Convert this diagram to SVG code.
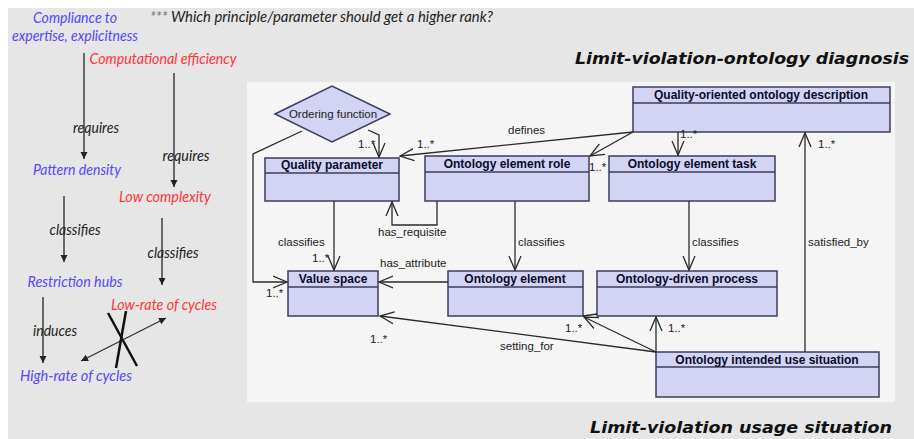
<svg xmlns="http://www.w3.org/2000/svg" width="914" height="439" viewBox="0 0 914 439">
<defs>
<style>
.cls{fill:#d3d3f3;stroke:#3c3c5c;stroke-width:1.5}
.hd{font-family:"Liberation Sans",Arial,sans-serif;font-weight:bold;font-size:12px;fill:#0a0a2a;text-anchor:middle}
.lb{font-family:"Liberation Sans",Arial,sans-serif;font-size:11.5px;fill:#222}
.ln{fill:none;stroke:#2a2a2a;stroke-width:1.3}
.lf{fill:none;stroke:#333;stroke-width:1.4}
.it{font-family:Lato,"Open Sans",sans-serif;font-style:italic;font-size:16px}
.blue{fill:#5548ff}
.red{fill:#ff3535}
.blk{fill:#222}
.ttl{font-family:"DejaVu Sans",Verdana,sans-serif;font-weight:bold;font-style:italic;font-size:16px;fill:#111}
</style>
<marker id="open" markerUnits="userSpaceOnUse" markerWidth="16" markerHeight="16" refX="14" refY="7" orient="auto">
<path d="M0,1 L14,7 L0,13" fill="none" stroke="#2a2a2a" stroke-width="1.3"/>
</marker>
<marker id="fill" markerUnits="userSpaceOnUse" markerWidth="8" markerHeight="8" refX="7" refY="3.5" orient="auto">
<path d="M0,0 L7,3.5 L0,7 Z" fill="#222"/>
</marker>
<marker id="fillS" markerUnits="userSpaceOnUse" markerWidth="8" markerHeight="8" refX="0" refY="3.5" orient="auto">
<path d="M7,0 L0,3.5 L7,7 Z" fill="#222"/>
</marker>
</defs>
<rect x="0" y="0" width="914" height="439" fill="#ffffff"/>
<rect x="8" y="8" width="906" height="431" fill="#e6e6e6"/>
<rect x="247" y="82" width="648" height="320" fill="#f5f5f5"/>

<!-- left side -->
<g id="left-texts">
<text class="it blue" x="75" y="23" text-anchor="middle" textLength="84" lengthAdjust="spacingAndGlyphs">Compliance to</text>
<text class="it blue" x="75" y="41" text-anchor="middle" textLength="126" lengthAdjust="spacingAndGlyphs">expertise, explicitness</text>
<text class="it red" x="163" y="64" text-anchor="middle" textLength="147" lengthAdjust="spacingAndGlyphs">Computational efficiency</text>
<text class="it blk" x="150" y="22" textLength="343" lengthAdjust="spacingAndGlyphs"><tspan fill="#777">***</tspan> Which principle/parameter should get a higher rank?</text>
<text class="it blue" x="77" y="175" text-anchor="middle" textLength="88" lengthAdjust="spacingAndGlyphs">Pattern density</text>
<text class="it red" x="165" y="202" text-anchor="middle" textLength="92" lengthAdjust="spacingAndGlyphs">Low complexity</text>
<text class="it blue" x="75" y="287" text-anchor="middle" textLength="95" lengthAdjust="spacingAndGlyphs">Restriction hubs</text>
<text class="it red" x="164" y="310" text-anchor="middle" textLength="106" lengthAdjust="spacingAndGlyphs">Low-rate of cycles</text>
<text class="it blue" x="76" y="381" text-anchor="middle" textLength="112" lengthAdjust="spacingAndGlyphs">High-rate of cycles</text>
</g>
<g id="left-connectors">
<line class="lf" x1="84" y1="53" x2="84" y2="159" marker-end="url(#fill)"/>
<text class="it blk" x="96" y="133" text-anchor="middle" textLength="46" lengthAdjust="spacingAndGlyphs">requires</text>
<line class="lf" x1="174" y1="73" x2="174" y2="187" marker-end="url(#fill)"/>
<text class="it blk" x="186" y="161" text-anchor="middle" textLength="47" lengthAdjust="spacingAndGlyphs">requires</text>
<line class="lf" x1="64" y1="196" x2="64" y2="262" marker-end="url(#fill)"/>
<text class="it blk" x="75" y="235" text-anchor="middle" textLength="51" lengthAdjust="spacingAndGlyphs">classifies</text>
<line class="lf" x1="162" y1="218" x2="162" y2="285" marker-end="url(#fill)"/>
<text class="it blk" x="173" y="258" text-anchor="middle" textLength="51" lengthAdjust="spacingAndGlyphs">classifies</text>
<line class="lf" x1="43" y1="297" x2="43" y2="363" marker-end="url(#fill)"/>
<text class="it blk" x="55" y="336" text-anchor="middle" textLength="44" lengthAdjust="spacingAndGlyphs">induces</text>
<line class="lf" x1="81" y1="361" x2="166" y2="318" marker-start="url(#fillS)" marker-end="url(#fill)"/>
<line x1="108" y1="313" x2="137" y2="366" stroke="#111" stroke-width="2.5"/>
<line x1="126" y1="311" x2="116" y2="368" stroke="#111" stroke-width="2.5"/>
</g>

<text class="ttl" x="575" y="64" textLength="334" lengthAdjust="spacingAndGlyphs">Limit-violation-ontology diagnosis</text>
<text class="ttl" x="590" y="433" textLength="302" lengthAdjust="spacingAndGlyphs">Limit-violation usage situation</text>

<!-- nodes -->
<g id="ordering-function">
<polygon class="cls" points="275,114 332,86 390,114 332,142"/>
<text class="lb" x="333" y="118" text-anchor="middle">Ordering function</text>
</g>
<g id="quality-parameter">
<rect class="cls" x="265" y="158" width="134" height="43"/>
<line class="cls" x1="265" y1="173" x2="399" y2="173"/>
<text class="hd" x="332" y="169">Quality parameter</text>
</g>
<g id="ontology-element-role">
<rect class="cls" x="425" y="156" width="164" height="45"/>
<line class="cls" x1="425" y1="172" x2="589" y2="172"/>
<text class="hd" x="507" y="168">Ontology element role</text>
</g>
<g id="ontology-element-task">
<rect class="cls" x="609" y="156" width="166" height="45"/>
<line class="cls" x1="609" y1="172" x2="775" y2="172"/>
<text class="hd" x="692" y="168">Ontology element task</text>
</g>
<g id="quality-oriented-ontology-description">
<rect class="cls" x="633" y="87" width="257" height="45"/>
<line class="cls" x1="633" y1="103" x2="890" y2="103"/>
<text class="hd" x="761" y="99">Quality-oriented ontology description</text>
</g>
<g id="value-space">
<rect class="cls" x="288" y="271" width="90" height="45"/>
<line class="cls" x1="288" y1="287" x2="378" y2="287"/>
<text class="hd" x="333" y="283">Value space</text>
</g>
<g id="ontology-element">
<rect class="cls" x="448" y="271" width="135" height="45"/>
<line class="cls" x1="448" y1="287" x2="583" y2="287"/>
<text class="hd" x="515" y="283">Ontology element</text>
</g>
<g id="ontology-driven-process">
<rect class="cls" x="597" y="271" width="180" height="45"/>
<line class="cls" x1="597" y1="287" x2="777" y2="287"/>
<text class="hd" x="687" y="283">Ontology-driven process</text>
</g>
<g id="ontology-intended-use-situation">
<rect class="cls" x="656" y="352" width="223" height="45"/>
<line class="cls" x1="656" y1="367" x2="879" y2="367"/>
<text class="hd" x="767" y="364">Ontology intended use situation</text>
</g>

<!-- connectors -->
<g id="connectors">
<polyline class="ln" points="368,130 379,135 379,157" marker-end="url(#open)"/>
<text class="lb" x="358" y="148">1..*</text>
<polyline class="ln" points="302,131 253,154 253,282 287,282" marker-end="url(#open)"/>
<text class="lb" x="266" y="297">1..*</text>
<line class="ln" x1="633" y1="132" x2="400" y2="156" marker-end="url(#open)"/>
<text class="lb" x="508" y="134">defines</text>
<text class="lb" x="417" y="148">1..*</text>
<line class="ln" x1="633" y1="132" x2="590" y2="156" marker-end="url(#open)"/>
<text class="lb" x="589" y="171">1..*</text>
<line class="ln" x1="678" y1="132" x2="678" y2="155" marker-end="url(#open)"/>
<text class="lb" x="680" y="138">1..*</text>
<line class="ln" x1="334" y1="201" x2="334" y2="270" marker-end="url(#open)"/>
<text class="lb" x="278" y="246">classifies</text>
<text class="lb" x="312" y="262">1..*</text>
<polyline class="ln" points="437,201 437,225 392,225 392,202" marker-end="url(#open)"/>
<text class="lb" x="378" y="236">has_requisite</text>
<line class="ln" x1="515" y1="201" x2="515" y2="270" marker-end="url(#open)"/>
<text class="lb" x="518" y="246">classifies</text>
<line class="ln" x1="448" y1="282" x2="379" y2="282" marker-end="url(#open)"/>
<text class="lb" x="380" y="267">has_attribute</text>
<line class="ln" x1="689" y1="201" x2="689" y2="270" marker-end="url(#open)"/>
<text class="lb" x="692" y="246">classifies</text>
<line class="ln" x1="805" y1="352" x2="805" y2="133" marker-end="url(#open)"/>
<text class="lb" x="808" y="246">satisfied_by</text>
<text class="lb" x="818" y="148">1..*</text>
<line class="ln" x1="656" y1="352" x2="656" y2="317" marker-end="url(#open)"/>
<text class="lb" x="668" y="332">1..*</text>
<line class="ln" x1="656" y1="352" x2="584" y2="317" marker-end="url(#open)"/>
<text class="lb" x="565" y="332">1..*</text>
<line class="ln" x1="656" y1="352" x2="380" y2="316" marker-end="url(#open)"/>
<text class="lb" x="370" y="343">1..*</text>
<text class="lb" x="500" y="350">setting_for</text>
<line class="ln" x1="583" y1="316" x2="597" y2="314"/>
</g>
</svg>
